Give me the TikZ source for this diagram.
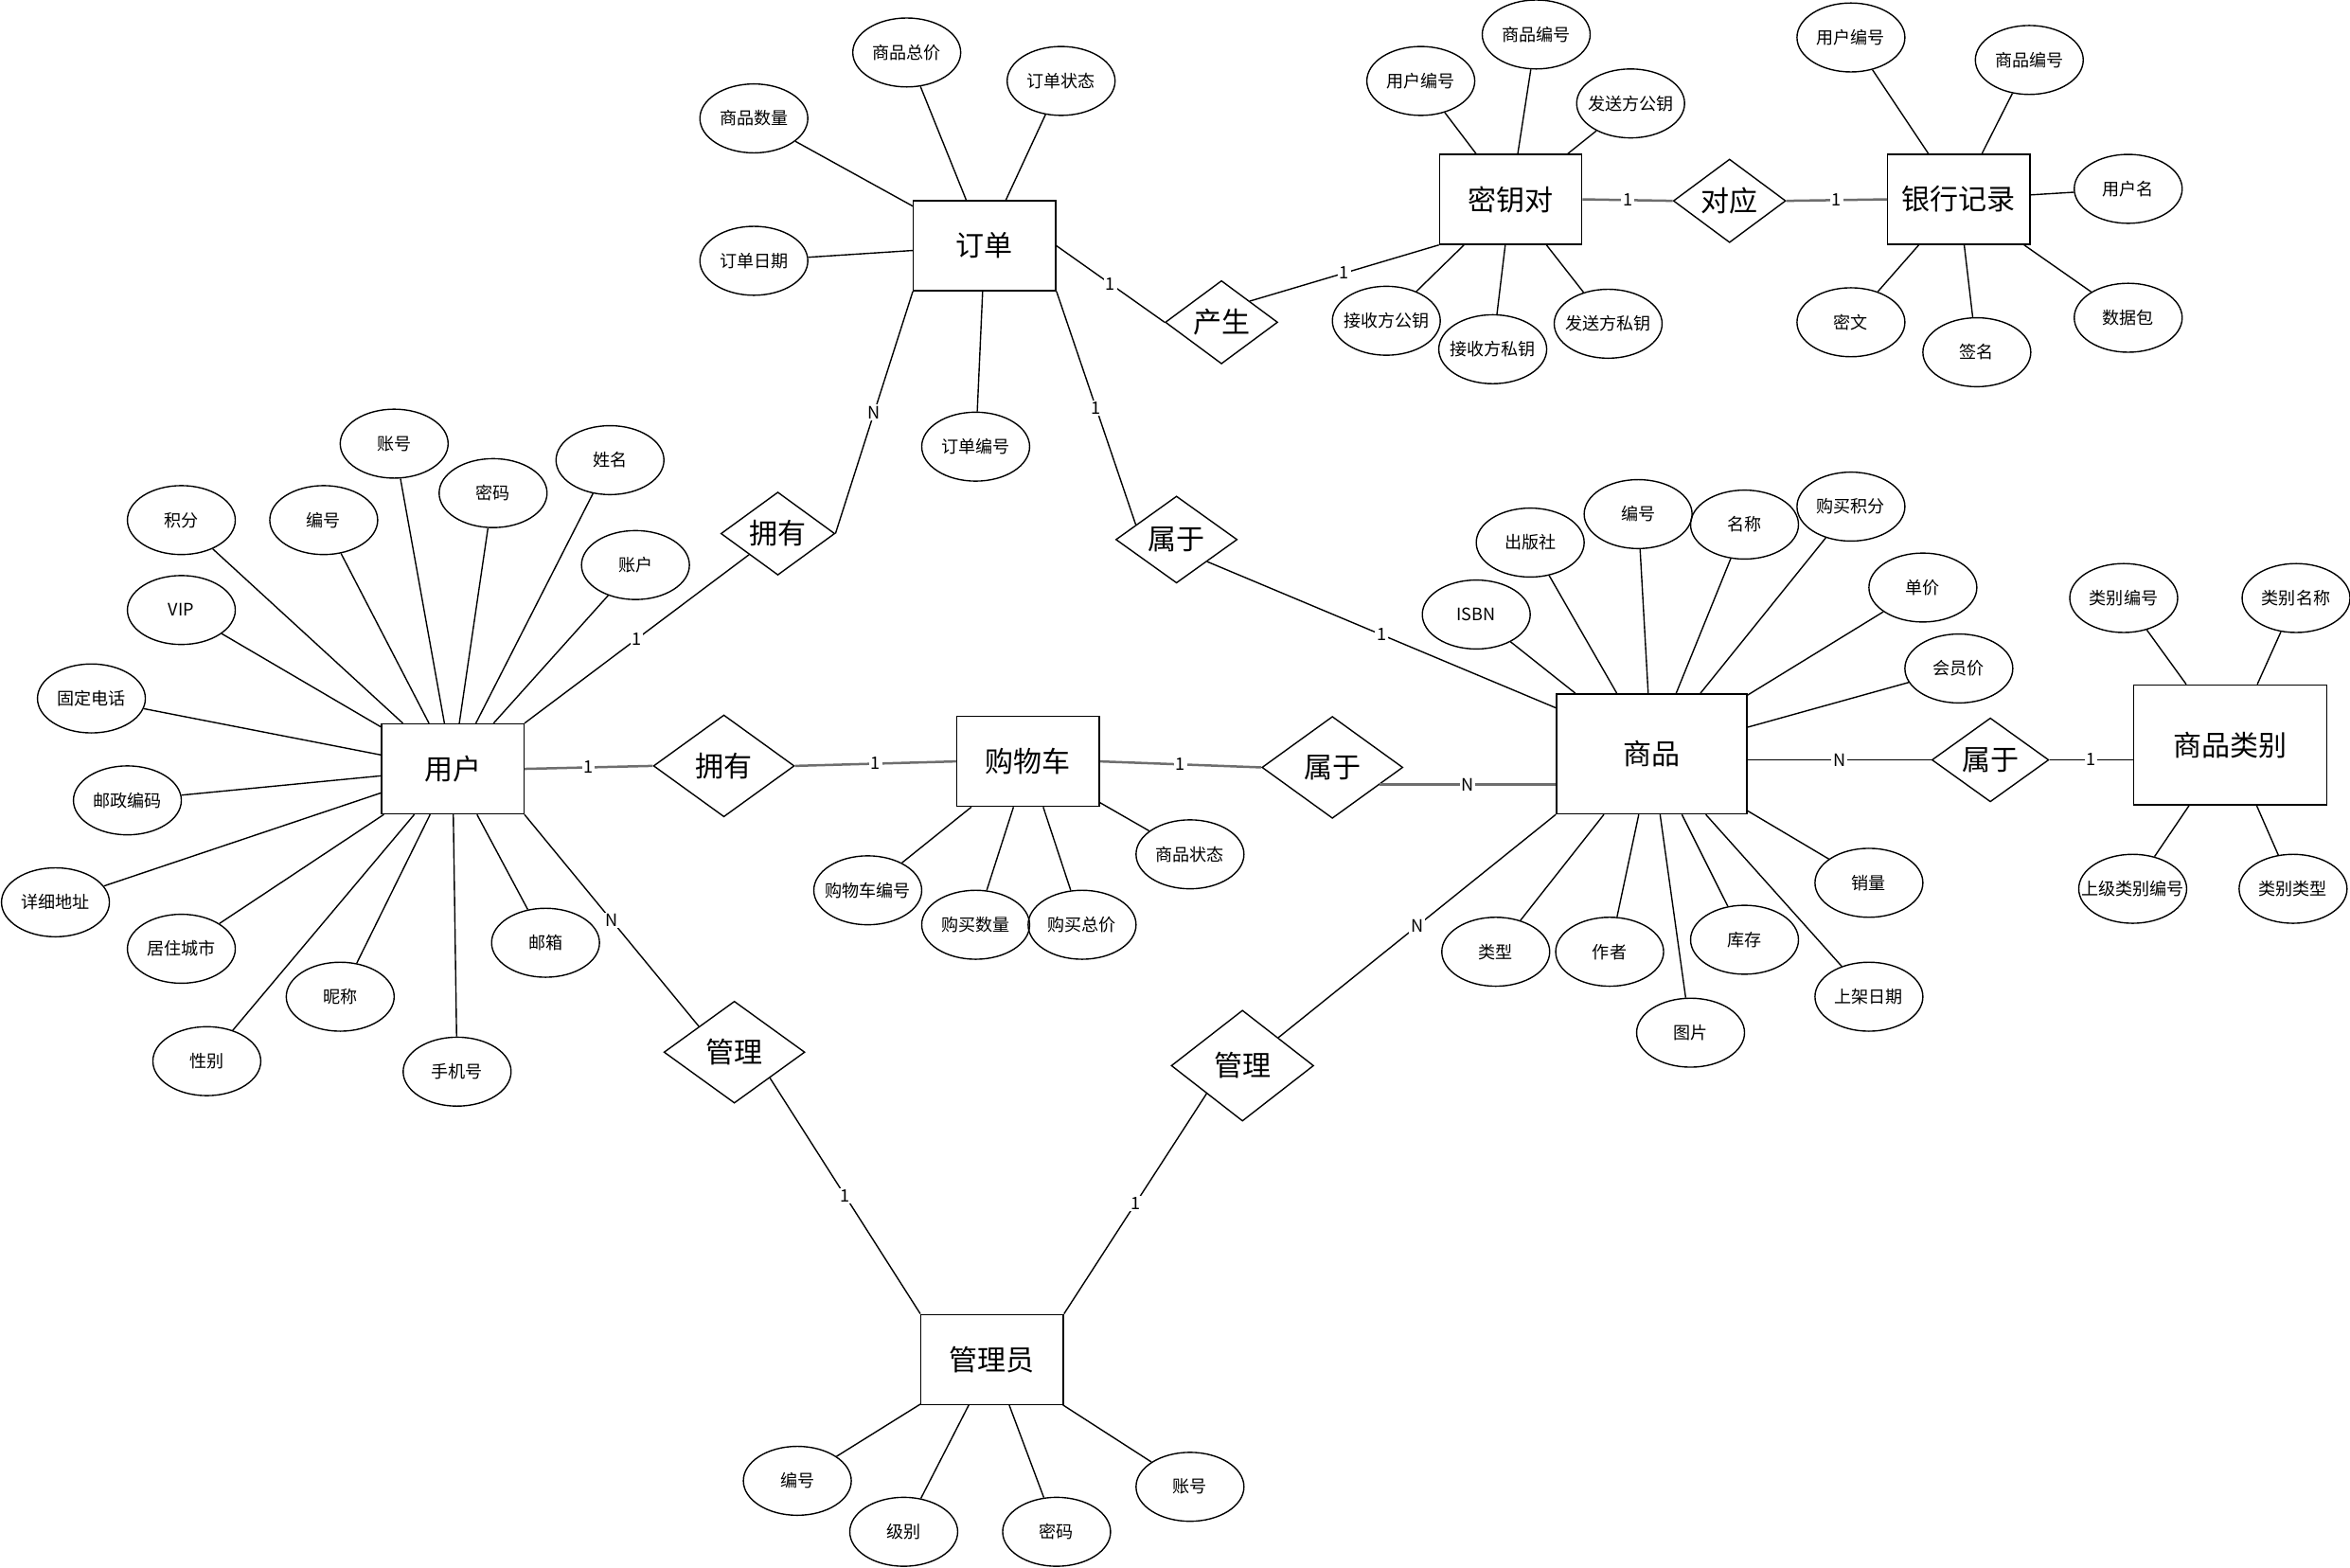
\documentclass[tikz,border=0pt]{standalone}
\usepackage{fontspec}
\setmainfont{Noto Sans CJK SC}
\usepackage{tikz}
\usetikzlibrary{calc,shapes.geometric}
\definecolor{lineaGris}{RGB}{110,110,110}
\tikzset{
  entityBox/.style={draw, rectangle, minimum width=19mm, minimum height=12mm,
    font=\fontsize{10.8pt}{12pt}\selectfont},
  relDiamond/.style={draw, diamond, inner sep=0pt, minimum width=18.8mm,
    minimum height=13.6mm, font=\fontsize{10.8pt}{12pt}\selectfont},
  attrOval/.style={draw, ellipse, inner sep=0pt, minimum width=14.4mm,
    minimum height=9.2mm, font=\fontsize{6.5pt}{7pt}\selectfont,
    execute at begin node={\hbox to 0pt\bgroup\hss},
    execute at end node={\hss\egroup}},
  cardLabel/.style={fill=white, inner sep=0.6pt, font=\fontsize{6.5pt}{7pt}\selectfont},
  relLineH/.style={draw=lineaGris, line width=0.9pt}
}

\begin{document}
\begin{tikzpicture}[x=0.2mm, y=-0.2mm, line width=0.5pt]
  \useasboundingbox (0,0) rectangle (1568,1046);
  % Entities
  \node[entityBox] (order) at (657,164) {订单};
  \node[entityBox] (keyPair) at (1008,133) {密钥对};
  \node[entityBox] (bankRecord) at (1307,133) {银行记录};
  \node[entityBox] (user) at (302,513) {用户};
  \node[entityBox] (cart) at (686,508) {购物车};
  \node[entityBox, minimum width=25.4mm, minimum height=16mm] (goods) at (1102,503) {商品};
  \node[entityBox, minimum width=25.8mm, minimum height=16mm] (category) at (1488,497) {商品类别};
  \node[entityBox] (admin) at (662,907) {管理员};
  % Relationships
  \node[relDiamond, minimum width=15mm, minimum height=11mm] (produce) at (815,215) {产生};
  \node[relDiamond, minimum width=15mm, minimum height=10.8mm] (correspond) at (1154,134) {对应};
  \node[relDiamond, minimum width=15.2mm, minimum height=10.8mm] (ownOrder) at (519,356) {拥有};
  \node[relDiamond, minimum width=16.2mm, minimum height=11.6mm] (belongOrder) at (785,360) {属于};
  \node[relDiamond] (ownCart) at (483,511) {拥有};
  \node[relDiamond] (belongCart) at (889,512) {属于};
  \node[relDiamond, minimum width=15.6mm, minimum height=11.2mm] (belongCat) at (1328,507) {属于};
  \node[relDiamond] (manageUser) at (490,702) {管理};
  \node[relDiamond, minimum width=19mm, minimum height=14.8mm] (manageGoods) at (829,711) {管理};

  % Order attributes
  \node[attrOval] (oTotal) at (605,35) {商品总价};
  \node[attrOval] (oState) at (708,54) {订单状态};
  \node[attrOval] (oQty) at (503,79) {商品数量};
  \node[attrOval] (oDate) at (503,174) {订单日期};
  \node[attrOval] (oId) at (651,298) {订单编号};
  \draw (order) -- (oTotal);
  \draw (order) -- (oState);
  \draw (order) -- (oQty);
  \draw (order) -- (oDate);
  \draw (order) -- (oId);

  % Key pair attributes
  \node[attrOval] (kUser) at (948,54) {用户编号};
  \node[attrOval] (kGoods) at (1025,23) {商品编号};
  \node[attrOval] (kSendPub) at (1088,69) {发送方公钥};
  \node[attrOval] (kRecvPub) at (925,214) {接收方公钥};
  \node[attrOval] (kRecvPri) at (996,233) {接收方私钥};
  \node[attrOval] (kSendPri) at (1073,216) {发送方私钥};
  \draw (keyPair) -- (kUser);
  \draw (keyPair) -- (kGoods);
  \draw (keyPair) -- (kSendPub);
  \draw (keyPair) -- (kRecvPub);
  \draw (keyPair) -- (kRecvPri);
  \draw (keyPair) -- (kSendPri);

  % Bank record attributes
  \node[attrOval] (bUser) at (1235,25) {用户编号};
  \node[attrOval] (bGoods) at (1354,40) {商品编号};
  \node[attrOval] (bName) at (1420,126) {用户名};
  \node[attrOval] (bPacket) at (1420,212) {数据包};
  \node[attrOval] (bSign) at (1319,235) {签名};
  \node[attrOval] (bCipher) at (1235,215) {密文};
  \draw (bankRecord) -- (bUser);
  \draw (bankRecord) -- (bGoods);
  \draw (bankRecord) -- (bName);
  \draw (bankRecord) -- (bPacket);
  \draw (bankRecord) -- (bSign);
  \draw (bankRecord) -- (bCipher);

  % User attributes
  \node[attrOval] (uAccount) at (263,296) {账号};
  \node[attrOval] (uName) at (407,307) {姓名};
  \node[attrOval] (uPoints) at (121,347) {积分};
  \node[attrOval] (uId) at (216,347) {编号};
  \node[attrOval] (uPwd) at (329,329) {密码};
  \node[attrOval] (uBank) at (424,377) {账户};
  \node[attrOval] (uVip) at (121,407) {VIP};
  \node[attrOval] (uPhone) at (61,466) {固定电话};
  \node[attrOval] (uZip) at (85,534) {邮政编码};
  \node[attrOval] (uAddr) at (37,602) {详细地址};
  \node[attrOval] (uCity) at (121,633) {居住城市};
  \node[attrOval] (uNick) at (227,665) {昵称};
  \node[attrOval] (uSex) at (138,708) {性别};
  \node[attrOval] (uMobile) at (305,715) {手机号};
  \node[attrOval] (uMail) at (364,629) {邮箱};
  \draw (user) -- (uAccount);
  \draw (user) -- (uName);
  \draw (user) -- (uPoints);
  \draw (user) -- (uId);
  \draw (user) -- (uPwd);
  \draw (user) -- (uBank);
  \draw (user) -- (uVip);
  \draw (user) -- (uPhone);
  \draw (user) -- (uZip);
  \draw (user) -- (uAddr);
  \draw (user) -- (uCity);
  \draw (user) -- (uNick);
  \draw (user) -- (uSex);
  \draw (user) -- (uMobile);
  \draw (user) -- (uMail);

  % Cart attributes
  \node[attrOval] (cId) at (579,594) {购物车编号};
  \node[attrOval] (cQty) at (651,617) {购买数量};
  \node[attrOval] (cTotal) at (722,617) {购买总价};
  \node[attrOval] (cState) at (794,570) {商品状态};
  \draw (cart) -- (cId);
  \draw (cart) -- (cQty);
  \draw (cart) -- (cTotal);
  \draw (cart) -- (cState);

  % Goods attributes
  \node[attrOval] (gPress) at (1021,362) {出版社};
  \node[attrOval] (gId) at (1093,343) {编号};
  \node[attrOval] (gName) at (1164,350) {名称};
  \node[attrOval] (gPoints) at (1235,338) {购买积分};
  \node[attrOval] (gIsbn) at (985,410) {ISBN};
  \node[attrOval] (gPrice) at (1283,392) {单价};
  \node[attrOval] (gVipPrice) at (1307,446) {会员价};
  \node[attrOval] (gSales) at (1247,589) {销量};
  \node[attrOval] (gDate) at (1247,665) {上架日期};
  \node[attrOval] (gStock) at (1164,627) {库存};
  \node[attrOval] (gPic) at (1128,689) {图片};
  \node[attrOval] (gAuthor) at (1074,635) {作者};
  \node[attrOval] (gType) at (998,635) {类型};
  \draw (goods) -- (gPress);
  \draw (goods) -- (gId);
  \draw (goods) -- (gName);
  \draw (goods) -- (gPoints);
  \draw (goods) -- (gIsbn);
  \draw (goods) -- (gPrice);
  \draw (goods) -- (gVipPrice);
  \draw (goods) -- (gSales);
  \draw (goods) -- (gDate);
  \draw (goods) -- (gStock);
  \draw (goods) -- (gPic);
  \draw (goods) -- (gAuthor);
  \draw (goods) -- (gType);

  % Category attributes
  \node[attrOval] (tId) at (1417,399) {类别编号};
  \node[attrOval] (tName) at (1532,399) {类别名称};
  \node[attrOval] (tParent) at (1423,593) {上级类别编号};
  \node[attrOval] (tType) at (1530,593) {类别类型};
  \draw (category) -- (tId);
  \draw (category) -- (tName);
  \draw (category) -- (tParent);
  \draw (category) -- (tType);

  % Admin attributes
  \node[attrOval] (mId) at (532,988) {编号};
  \node[attrOval] (mLevel) at (603,1022) {级别};
  \node[attrOval] (mPwd) at (705,1022) {密码};
  \node[attrOval] (mAccount) at (794,992) {账号};
  \draw (admin) -- (mId);
  \draw (admin) -- (mLevel);
  \draw (admin) -- (mPwd);
  \draw (admin) -- (mAccount);

  % Relationship lines
  \draw (order.east) -- node[cardLabel] {1} (produce.west);
  \draw (produce.north east) -- node[cardLabel] {1} (keyPair.south west);
  \draw[relLineH] (keyPair.east) -- node[cardLabel] {1} (correspond.west);
  \draw[relLineH] (correspond.east) -- node[cardLabel] {1} (bankRecord.west);
  \draw (order.south west) -- node[cardLabel] {N} (ownOrder.east);
  \draw (user.north east) -- node[cardLabel] {1} (ownOrder.south west);
  \draw (order.south east) -- node[cardLabel] {1} (belongOrder.160);
  \draw (belongOrder.south east) -- node[cardLabel] {1}
    ($(goods.north west)!0.12!(goods.south west)$);
  \draw[relLineH] (user.east) -- node[cardLabel] {1} (ownCart.west);
  \draw[relLineH] (ownCart.east) -- node[cardLabel] {1} (cart.west);
  \draw[relLineH] (cart.east) -- node[cardLabel] {1} (belongCart.west);
  \draw[relLineH] (belongCart.-20) -- node[cardLabel] {N} (belongCart.-20 -| goods.west);
  \draw (belongCat.west -| goods.east) -- node[cardLabel] {N} (belongCat.west);
  \draw (belongCat.east) -- node[cardLabel] {1} (belongCat.east -| category.west);
  \draw (user.south east) -- node[cardLabel] {N} (manageUser.north west);
  \draw (manageUser.south east) -- node[cardLabel] {1} (admin.north west);
  \draw (goods.south west) -- node[cardLabel] {N} (manageGoods.north east);
  \draw (manageGoods.south west) -- node[cardLabel] {1} (admin.north east);
\end{tikzpicture}
\end{document}
